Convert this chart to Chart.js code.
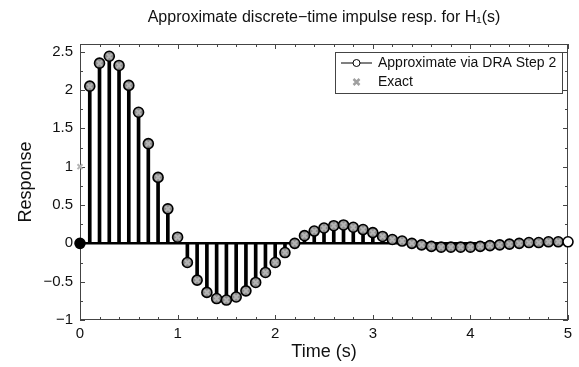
<!DOCTYPE html>
<html>
<head>
<meta charset="utf-8">
<script src="https://cdn.jsdelivr.net/npm/chart.js@4"></script>
<style>
  html, body { margin: 0; padding: 0; background: #fff; }
  #wrap { width: 579px; height: 367px; }
</style>
</head>
<body>
<div id="wrap"><canvas id="chart" width="579" height="367"></canvas></div>
<script>
// sample times (s)
const times = [0, 0.1, 0.2, 0.3, 0.4, 0.5, 0.6, 0.7, 0.8, 0.9, 1.0,
  1.1, 1.2, 1.3, 1.4, 1.5, 1.6, 1.7, 1.8, 1.9, 2.0,
  2.1, 2.2, 2.3, 2.4, 2.5, 2.6, 2.7, 2.8, 2.9, 3.0,
  3.1, 3.2, 3.3, 3.4, 3.5, 3.6, 3.7, 3.8, 3.9, 4.0,
  4.1, 4.2, 4.3, 4.4, 4.5, 4.6, 4.7, 4.8, 4.9, 5.0];

// approximate response (DRA step 2)
const approxY = [0, 2.05, 2.35, 2.44, 2.32, 2.06, 1.71, 1.30, 0.86, 0.45, 0.08,
  -0.25, -0.48, -0.64, -0.72, -0.74, -0.70, -0.62, -0.51, -0.38, -0.25,
  -0.12, 0.0, 0.10, 0.16, 0.20, 0.23, 0.24, 0.21, 0.18, 0.14,
  0.09, 0.05, 0.03, 0.0, -0.02, -0.04, -0.05, -0.05, -0.05, -0.05,
  -0.04, -0.03, -0.02, -0.01, 0.0, 0.01, 0.01, 0.02, 0.02, 0.02];

// exact response (no sample at t = 5)
const exactY = [1, 2.05, 2.35, 2.44, 2.32, 2.06, 1.71, 1.30, 0.86, 0.45, 0.08,
  -0.25, -0.48, -0.64, -0.72, -0.74, -0.70, -0.62, -0.51, -0.38, -0.25,
  -0.12, 0.0, 0.10, 0.16, 0.20, 0.23, 0.24, 0.21, 0.18, 0.14,
  0.09, 0.05, 0.03, 0.0, -0.02, -0.04, -0.05, -0.05, -0.05, -0.05,
  -0.04, -0.03, -0.02, -0.01, 0.0, 0.01, 0.01, 0.02, 0.02, null];

const xTicks = [0, 1, 2, 3, 4, 5];
const yTicks = [-1, -0.5, 0, 0.5, 1, 1.5, 2, 2.5];
const legendLabels = ["Approximate via DRA Step 2", "Exact"];

const FONT = "'Liberation Sans', Arial, Helvetica, sans-serif";
const approxPts = times.map((t, i) => ({ x: t, y: approxY[i] }));
const exactPts = times.map((t, i) => ({ x: t, y: exactY[i] })).filter(p => p.y !== null);

function fmt(v) {
  return String(v).replace("-", "\u2212");
}

// box around the axes with inward ticks
const frame = {
  id: "frame",
  beforeDatasetsDraw(chart) {
    const { ctx, chartArea: a, scales: { x, y } } = chart;
    ctx.save();
    ctx.strokeStyle = "#444";
    ctx.lineWidth = 1;
    ctx.strokeRect(a.left + 0.5, a.top + 0.5, a.width - 1, a.height - 1);
    ctx.beginPath();
    for (let i = 0; i <= 25; i++) {
      const v = i * 0.2;
      const px = Math.round(x.getPixelForValue(v)) + 0.5;
      const L = i % 5 === 0 ? 5 : 3;
      ctx.moveTo(px, a.bottom); ctx.lineTo(px, a.bottom - L);
      ctx.moveTo(px, a.top); ctx.lineTo(px, a.top + L);
    }
    for (let i = 0; i <= 14; i++) {
      const v = -1 + i * 0.25;
      const py = Math.round(y.getPixelForValue(v)) + 0.5;
      const L = i % 2 === 0 ? 5 : 3;
      ctx.moveTo(a.left, py); ctx.lineTo(a.left + L, py);
      ctx.moveTo(a.right, py); ctx.lineTo(a.right - L, py);
    }
    ctx.stroke();
    ctx.restore();
  }
};

// legend box inside the axes, top right
const legendBox = {
  id: "legendBox",
  afterDraw(chart) {
    const { ctx, chartArea: a } = chart;
    const right = a.right - 6, top = a.top + 8, w = 227, h = 41;
    const left = right - w;
    ctx.save();
    ctx.fillStyle = "#fff";
    ctx.fillRect(left, top, w, h);
    ctx.strokeStyle = "#444";
    ctx.lineWidth = 1;
    ctx.strokeRect(left + 0.5, top + 0.5, w, h);
    const r1 = top + 11, r2 = top + 30;
    // line + circle sample
    ctx.strokeStyle = "#000";
    ctx.lineWidth = 1;
    ctx.beginPath();
    ctx.moveTo(left + 6, r1); ctx.lineTo(left + 37, r1);
    ctx.stroke();
    ctx.beginPath();
    ctx.arc(left + 21.5, r1, 3.5, 0, Math.PI * 2);
    ctx.fillStyle = "#fff";
    ctx.fill();
    ctx.stroke();
    // x marker sample
    ctx.strokeStyle = "#a0a0a0";
    ctx.lineWidth = 2.5;
    ctx.beginPath();
    ctx.moveTo(left + 18.5, r2 - 3); ctx.lineTo(left + 24.5, r2 + 3);
    ctx.moveTo(left + 24.5, r2 - 3); ctx.lineTo(left + 18.5, r2 + 3);
    ctx.stroke();
    ctx.fillStyle = "#111";
    ctx.font = "14px " + FONT;
    ctx.textBaseline = "middle";
    ctx.fillText(legendLabels[0], left + 43, r1);
    ctx.fillText(legendLabels[1], left + 43, r2);
    ctx.restore();
  }
};

new Chart(document.getElementById("chart"), {
  type: "scatter",
  data: {
    datasets: [
      {
        label: legendLabels[1],
        data: exactPts,
        showLine: false,
        pointStyle: "crossRot",
        pointRadius: 3.5,
        pointBorderWidth: 2,
        pointBorderColor: "#b4b4b4",
        clip: false,
        order: 0
      },
      {
        label: legendLabels[0],
        data: approxPts,
        showLine: false,
        pointStyle: "circle",
        pointRadius: 5,
        pointBorderWidth: 1.6,
        pointBorderColor: "#000",
        pointBackgroundColor: (c) => c.dataIndex === 0 ? "#000" : (c.dataIndex === times.length - 1 ? "#fff" : "#8c8c8c"),
        clip: false,
        order: 1
      },
      {
        type: "bar",
        label: "stems",
        data: approxPts,
        backgroundColor: "#000",
        barThickness: 3,
        order: 2
      },
      {
        type: "line",
        label: "baseline",
        data: [{ x: times[0], y: 0 }, { x: times[times.length - 1], y: 0 }],
        borderColor: "#000",
        borderWidth: 2.5,
        pointRadius: 0,
        order: 3
      }
    ]
  },
  options: {
    responsive: false,
    animation: false,
    devicePixelRatio: 1,
    layout: { padding: { left: 0, right: 11, top: 0, bottom: 0 } },
    plugins: {
      legend: { display: false },
      tooltip: { enabled: false },
      title: {
        display: true,
        fullSize: false,
        text: "Approximate discrete\u2212time impulse resp. for H\u2081(s)",
        color: "#111",
        font: { family: FONT, size: 16, weight: "normal" },
        padding: { top: 8, bottom: 16.8 }
      }
    },
    scales: {
      x: {
        type: "linear",
        min: 0,
        max: 5,
        offset: false,
        grid: { display: false, drawTicks: false },
        border: { display: false },
        afterBuildTicks: (s) => { s.ticks = xTicks.map(v => ({ value: v })); },
        afterFit: (s) => { s.height = 47; },
        ticks: {
          padding: 5,
          color: "#111",
          font: { family: FONT, size: 15 },
          callback: (v) => fmt(v)
        },
        title: {
          display: true,
          text: "Time (s)",
          color: "#111",
          font: { family: FONT, size: 18 },
          padding: { top: 0, bottom: 4 }
        }
      },
      y: {
        min: -1,
        max: 2.6,
        grid: { display: false, drawTicks: false },
        border: { display: false },
        afterBuildTicks: (s) => { s.ticks = yTicks.map(v => ({ value: v })); },
        afterFit: (s) => { s.width = 80; },
        ticks: {
          padding: 7,
          color: "#111",
          font: { family: FONT, size: 15 },
          callback: (v) => fmt(v)
        },
        title: {
          display: true,
          text: "Response",
          color: "#111",
          font: { family: FONT, size: 18 },
          padding: { top: 15, bottom: 0 }
        }
      }
    }
  },
  plugins: [frame, legendBox]
});
</script>
</body>
</html>
